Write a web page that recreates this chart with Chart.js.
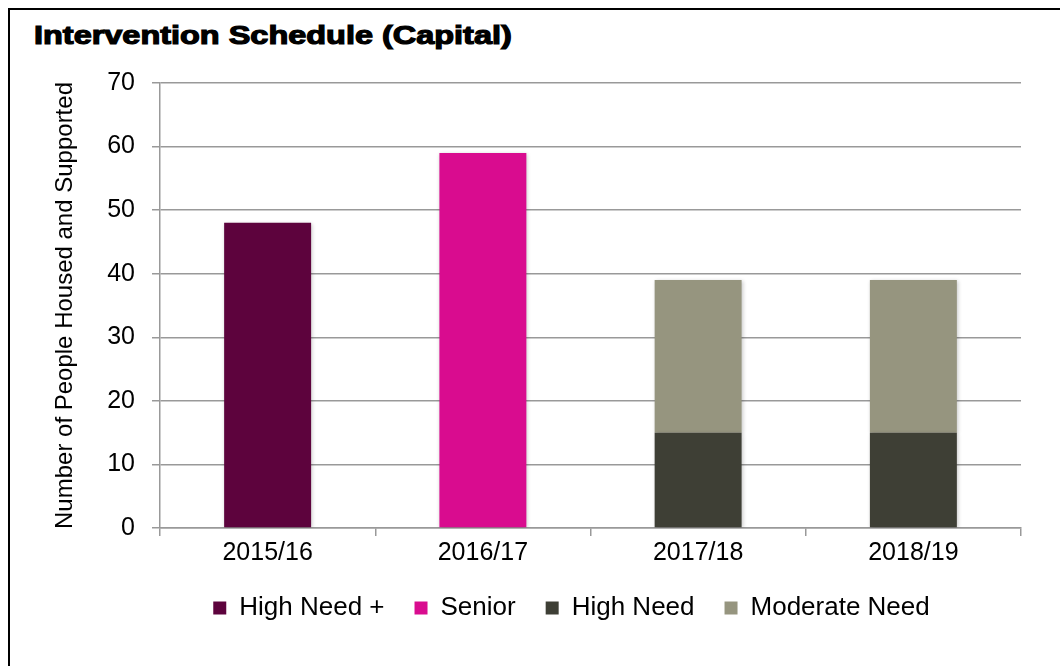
<!DOCTYPE html>
<html>
<head>
<meta charset="utf-8">
<script src="https://cdn.jsdelivr.net/npm/chart.js@4.4.1/dist/chart.umd.min.js"></script>
<style>
  html, body { margin: 0; padding: 0; background: #fff; }
  #wrap { position: relative; width: 1060px; height: 666px; overflow: hidden; }
  #frame { position: absolute; left: 8px; top: 8px; width: 1100px; height: 700px;
           border-top: 2px solid #000; border-left: 2px solid #000; box-sizing: border-box; }
  #title { position: absolute; left: 34px; top: 20px; font-family: "Liberation Sans", Arial, sans-serif;
           font-weight: bold; font-size: 26px; line-height: 30px; color: #000; -webkit-text-stroke: 1.2px #000;
           white-space: nowrap; transform-origin: 0 0; }
  canvas { position: absolute; left: 0; top: 0; }
</style>
</head>
<body>
<div id="wrap">
  <div id="frame"></div>
  <div id="title">Intervention Schedule (Capital)</div>
  <canvas id="c" width="1060" height="666"></canvas>
</div>
<script>
const categories = ["2015/16", "2016/17", "2017/18", "2018/19"];
const highNeedPlus = [48, null, null, null];
const senior = [null, 59, null, null];
const highNeed = [null, null, 15, 15];
const moderateNeed = [null, null, 24, 24];
const yTicks = [0, 10, 20, 30, 40, 50, 60, 70];
const yTitle = "Number of People Housed and Supported";

const FONT = "'Liberation Sans', Arial, sans-serif";

// widen the bold title to mimic a black-weight face
const t = document.getElementById('title');
t.style.transform = 'scaleX(' + (478 / t.offsetWidth) + ')';

const shadowPlugin = {
  id: 'barShadow',
  beforeDatasetsDraw(chart) {
    const ctx = chart.ctx;
    ctx.save();
    ctx.shadowColor = 'rgba(0,0,0,0.22)';
    ctx.shadowBlur = 4;
    ctx.shadowOffsetX = 1;
    ctx.shadowOffsetY = 1;
  },
  afterDatasetsDraw(chart) {
    chart.ctx.restore();
  }
};

// centre the legend under the region used by the reference (x 122..1021)
const legendShift = {
  id: 'legendShift',
  afterLayout(chart) {
    if (chart.legend) { chart.legend.left = 122; }
  }
};

new Chart(document.getElementById('c'), {
  type: 'bar',
  data: {
    labels: categories,
    datasets: [
      { label: 'High Need +', data: highNeedPlus, backgroundColor: '#5d033d' },
      { label: 'Senior', data: senior, backgroundColor: '#d90c8f' },
      { label: 'High Need', data: highNeed, backgroundColor: '#3e3f35' },
      { label: 'Moderate Need', data: moderateNeed, backgroundColor: '#96957f' }
    ]
  },
  plugins: [shadowPlugin, legendShift],
  options: {
    responsive: false,
    animation: false,
    events: [],
    layout: { padding: { top: 83, right: 39, left: 0, bottom: 35 } },
    datasets: { bar: { categoryPercentage: 1.0, barPercentage: 0.404, skipNull: false } },
    scales: {
      x: {
        stacked: true,
        grid: { display: true, drawOnChartArea: false, drawTicks: true, tickLength: 8, color: '#999', lineWidth: 1.5, offset: true },
        border: { display: true, color: '#999', width: 1.5 },
        ticks: { color: '#000', font: { family: FONT, size: 25 }, padding: 2, maxRotation: 0 },
        afterFit(scale) { scale.height = 37; }
      },
      y: {
        stacked: true,
        min: 0, max: 70,
        afterBuildTicks(scale) { scale.ticks = yTicks.map(v => ({ value: v })); },
        grid: { color: '#999', lineWidth: 1.5, tickLength: 8, drawTicks: true },
        border: { display: true, color: '#999', width: 1.5 },
        ticks: { color: '#000', font: { family: FONT, size: 25 }, padding: 17 },
        title: { display: true, text: yTitle, color: '#000', font: { family: FONT, size: 24 },
                 padding: { top: 65 - 14.4, bottom: 0 } },
        afterFit(scale) { scale.width = 160; }
      }
    },
    plugins: {
      title: { display: false },
      tooltip: { enabled: false },
      legend: {
        position: 'bottom',
        labels: { color: '#000', font: { family: FONT, size: 26 }, boxWidth: 13, boxHeight: 13, padding: 30 }
      }
    }
  }
});
</script>
</body>
</html>
